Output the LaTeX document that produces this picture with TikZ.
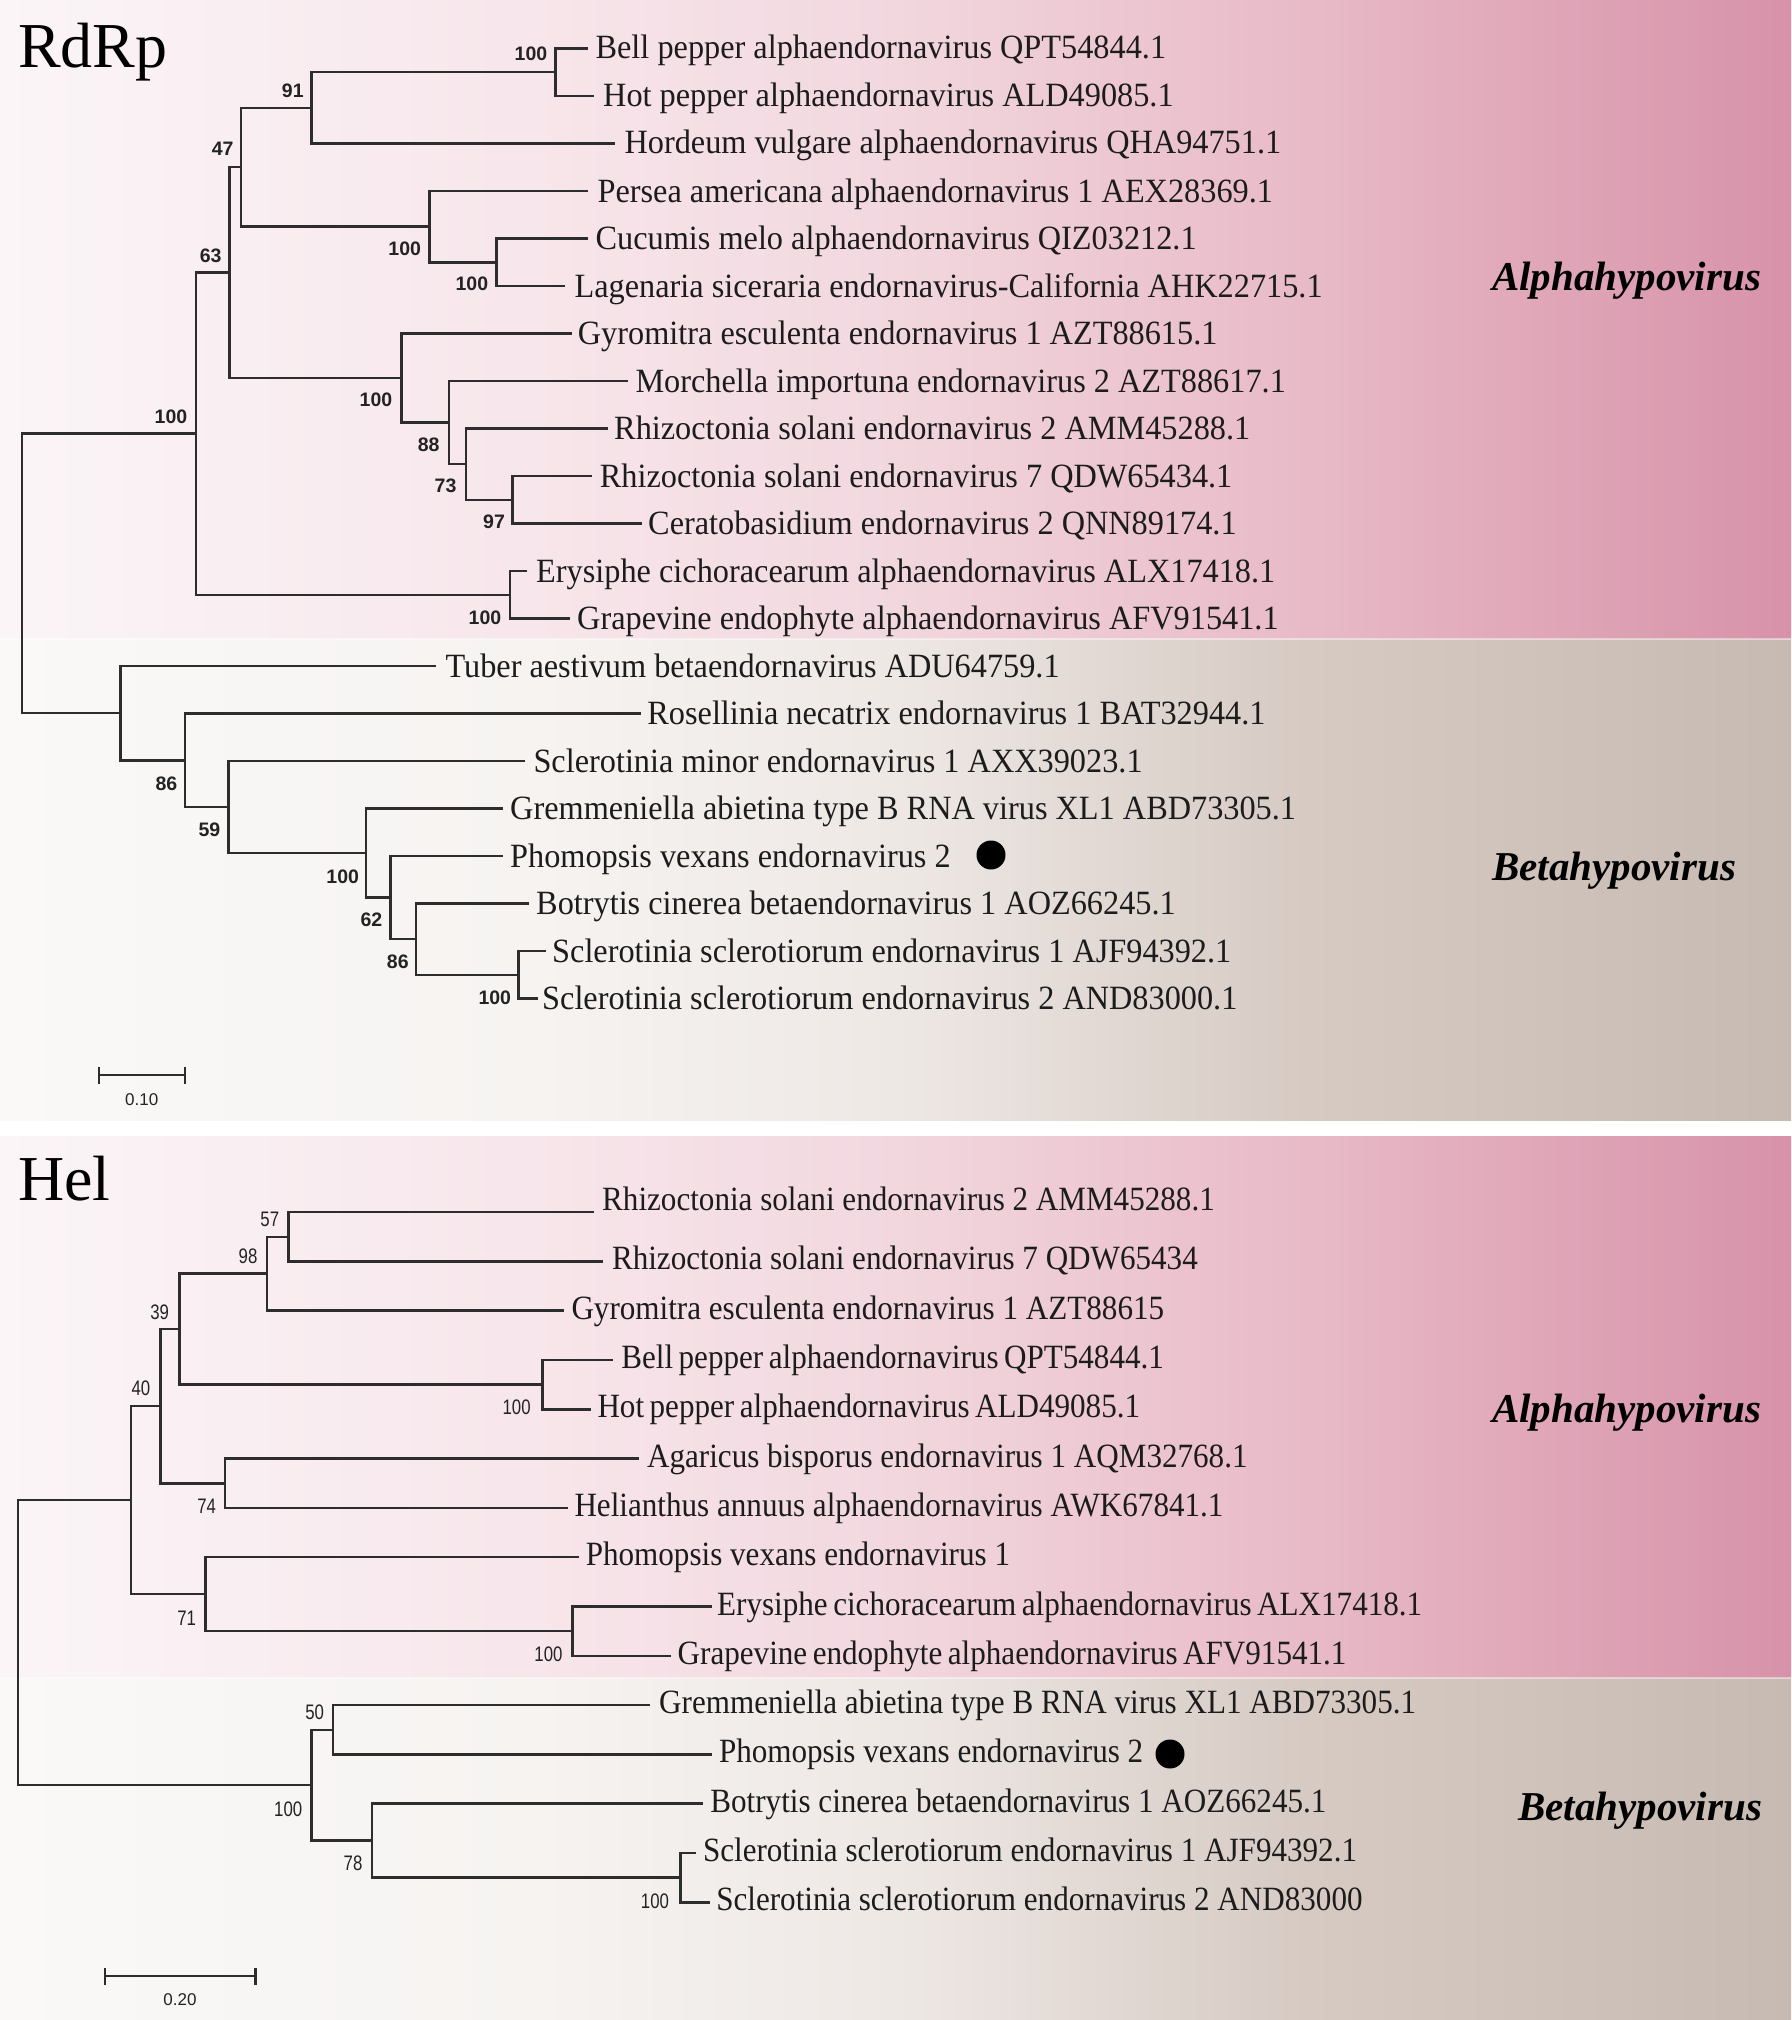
\documentclass[tikz,border=0pt]{standalone}
\usepackage{fontspec}
\setmainfont{Liberation Serif}
\newfontfamily\leafRm[FakeStretch=0.95]{Liberation Serif}
\newfontfamily\leafHm[FakeStretch=0.915]{Liberation Serif}
\newfontfamily\bsRm{Liberation Sans}
\newfontfamily\bsHm[FakeStretch=0.8]{Liberation Sans}
\newfontfamily\sbRm{Liberation Sans}
\definecolor{pk0}{RGB}{251,245,247}
\definecolor{pk1}{RGB}{247,230,235}
\definecolor{pk2}{RGB}{242,215,223}
\definecolor{pk3}{RGB}{232,186,199}
\definecolor{pk4}{RGB}{215,146,169}
\definecolor{gy0}{RGB}{250,249,248}
\definecolor{gy1}{RGB}{246,243,241}
\definecolor{gy2}{RGB}{238,232,229}
\definecolor{gy3}{RGB}{214,202,195}
\definecolor{gy4}{RGB}{199,186,178}
\definecolor{treecol}{RGB}{45,45,45}
\definecolor{txtcol}{RGB}{28,28,28}
\definecolor{bscol}{RGB}{35,35,35}
\pgfdeclarehorizontalshading{pinkband}{100bp}{color(0bp)=(pk0); color(25bp)=(pk0); color(40bp)=(pk1); color(50bp)=(pk2); color(61.5bp)=(pk3); color(75bp)=(pk4); color(100bp)=(pk4)}
\pgfdeclarehorizontalshading{greyband}{100bp}{color(0bp)=(gy0); color(25bp)=(gy0); color(40bp)=(gy1); color(50bp)=(gy2); color(61.5bp)=(gy3); color(75bp)=(gy4); color(100bp)=(gy4)}
\tikzset{
  br/.style={draw=treecol, line width=2.5pt},
  leafA/.style={anchor=base west, inner sep=0pt, text=txtcol, font=\fontsize{34}{40}\leafRm},
  leafB/.style={anchor=base west, inner sep=0pt, text=txtcol, font=\fontsize{34}{40}\leafHm},
  tight/.style={execute at begin node={\spaceskip=5.5pt plus 1pt\relax}},
  bsA/.style={inner sep=0pt, text=bscol, font=\fontsize{19.5}{22}\bsRm\bfseries},
  bsB/.style={inner sep=0pt, text=bscol, font=\fontsize{21}{24}\bsHm},
  clade/.style={anchor=base west, inner sep=0pt, text=black, font=\fontsize{41}{46}\rmfamily\bfseries\itshape},
  ttl/.style={anchor=base west, inner sep=0pt, text=black, font=\fontsize{64}{70}\rmfamily},
  sbar/.style={draw=treecol, line width=2.4pt},
  sblabel/.style={inner sep=0pt, text=bscol, font=\fontsize{17}{20}\sbRm},
  dotmark/.style={circle, fill=black, inner sep=0pt, minimum size=29pt}
}
\begin{document}
\begin{tikzpicture}[x=1pt,y=-1pt]
\useasboundingbox (0,0) rectangle (1791,2020);
\fill[white] (0,0) rectangle (1791,2020);
% backgrounds
\shade[shading=pinkband] (0,0) rectangle (1791,639.3);
\shade[shading=greyband] (0,639.3) rectangle (1791,1120.7);
\shade[shading=pinkband] (0,1136.7) rectangle (1791,1678.3);
\shade[shading=greyband] (0,1678.3) rectangle (1791,2020);
\draw[white, opacity=0.45, line width=2pt] (0,639.3) -- (1791,639.3);
\draw[white, opacity=0.45, line width=2pt] (0,1678.3) -- (1791,1678.3);

% titles
\node[ttl] (tR) at (18,68) {RdRp};
\node[ttl] (tH) at (18,1200) {Hel};
\node[clade] (cA1) at (1492,290) {Alphahypovirus};
\node[clade] (cB1) at (1492,880) {Betahypovirus};
\node[clade] (cA2) at (1492,1422) {Alphahypovirus};
\node[clade] (cB2) at (1518,1820) {Betahypovirus};

% ===== RdRp tree =====
\coordinate (r1) at (588.4,48.5);
\coordinate (r2) at (594,96);
\coordinate (r3) at (615.4,143.5);
\coordinate (r4) at (588.4,191);
\coordinate (r5) at (588.4,238.5);
\coordinate (r6) at (565.4,286);
\coordinate (r7) at (571.7,333.5);
\coordinate (r8) at (628.3,381);
\coordinate (r9) at (608,428.5);
\coordinate (r10) at (591.7,476);
\coordinate (r11) at (642,523.5);
\coordinate (r12) at (527,571);
\coordinate (r13) at (570,618.5);
\coordinate (r14) at (436.3,666);
\coordinate (r15) at (641.2,713.5);
\coordinate (r16) at (525.3,761);
\coordinate (r17) at (503,808.5);
\coordinate (r18) at (503,856);
\coordinate (r19) at (529,903.5);
\coordinate (r20) at (546,951);
\coordinate (r21) at (538,998.5);
\coordinate (rF) at (555.7,72.25);
\coordinate (rD) at (311.7,107.9);
\coordinate (rH) at (496.6,262.25);
\coordinate (rE) at (429.4,226.6);
\coordinate (rC) at (241.1,167.25);
\coordinate (rK) at (512.7,499.75);
\coordinate (rJ) at (466,464.1);
\coordinate (rI) at (449,422.6);
\coordinate (rG) at (401.5,378);
\coordinate (rB) at (229.6,272.6);
\coordinate (rL) at (509.8,594.75);
\coordinate (rA) at (195.8,433.7);
\coordinate (rS) at (518.4,974.75);
\coordinate (rR) at (416.2,939.1);
\coordinate (rQ) at (390.4,897.6);
\coordinate (rP) at (366.2,853);
\coordinate (rO) at (228.5,807);
\coordinate (rN) at (184.8,760.25);
\coordinate (rM) at (120.6,713.1);
\coordinate (rRoot) at (21.8,573.4);
\foreach \p/\c in {rRoot/rA, rRoot/rM, rA/rB, rA/rL, rB/rC, rB/rG, rC/rD, rC/rE, rD/rF, rD/r3, rF/r1, rF/r2,
  rE/r4, rE/rH, rH/r5, rH/r6, rG/r7, rG/rI, rI/r8, rI/rJ, rJ/r9, rJ/rK, rK/r10, rK/r11, rL/r12, rL/r13,
  rM/r14, rM/rN, rN/r15, rN/rO, rO/r16, rO/rP, rP/r17, rP/rQ, rQ/r18, rQ/rR, rR/r19, rR/rS, rS/r20, rS/r21}
  \draw[br] (\p) |- (\c);
\node[leafA] (lr1) at ([xshift=7pt,yshift=-10.5pt]r1) {Bell pepper alphaendornavirus QPT54844.1};
\node[leafA] (lr2) at ([xshift=9pt,yshift=-11pt]r2) {Hot pepper alphaendornavirus ALD49085.1};
\node[leafA] (lr3) at ([xshift=9pt,yshift=-10.5pt]r3) {Hordeum vulgare alphaendornavirus QHA94751.1};
\node[leafA] (lr4) at ([xshift=9pt,yshift=-11pt]r4) {Persea americana alphaendornavirus 1 AEX28369.1};
\node[leafA] (lr5) at ([xshift=7pt,yshift=-11pt]r5) {Cucumis melo alphaendornavirus QIZ03212.1};
\node[leafA] (lr6) at ([xshift=9pt,yshift=-11pt]r6) {Lagenaria siceraria endornavirus-California AHK22715.1};
\node[leafA] (lr7) at ([xshift=6pt,yshift=-11pt]r7) {Gyromitra esculenta endornavirus 1 AZT88615.1};
\node[leafA] (lr8) at ([xshift=7pt,yshift=-11pt]r8) {Morchella importuna endornavirus 2 AZT88617.1};
\node[leafA] (lr9) at ([xshift=6pt,yshift=-11pt]r9) {Rhizoctonia solani endornavirus 2 AMM45288.1};
\node[leafA] (lr10) at ([xshift=8pt,yshift=-11pt]r10) {Rhizoctonia solani endornavirus 7 QDW65434.1};
\node[leafA] (lr11) at ([xshift=6pt,yshift=-11pt]r11) {Ceratobasidium endornavirus 2 QNN89174.1};
\node[leafA] (lr12) at ([xshift=9pt,yshift=-11pt]r12) {Erysiphe cichoracearum alphaendornavirus ALX17418.1};
\node[leafA] (lr13) at ([xshift=7pt,yshift=-11pt]r13) {Grapevine endophyte alphaendornavirus AFV91541.1};
\node[leafA] (lr14) at ([xshift=9pt,yshift=-11pt]r14) {Tuber aestivum betaendornavirus ADU64759.1};
\node[leafA] (lr15) at ([xshift=6pt,yshift=-11pt]r15) {Rosellinia necatrix endornavirus 1 BAT32944.1};
\node[leafA] (lr16) at ([xshift=8pt,yshift=-11pt]r16) {Sclerotinia minor endornavirus 1 AXX39023.1};
\node[leafA] (lr17) at ([xshift=7pt,yshift=-11pt]r17) {Gremmeniella abietina type B RNA virus XL1 ABD73305.1};
\node[leafA] (lr18) at ([xshift=7pt,yshift=-11pt]r18) {Phomopsis vexans endornavirus 2};
\node[leafA] (lr19) at ([xshift=7pt,yshift=-11pt]r19) {Botrytis cinerea betaendornavirus 1 AOZ66245.1};
\node[leafA] (lr20) at ([xshift=6pt,yshift=-11pt]r20) {Sclerotinia sclerotiorum endornavirus 1 AJF94392.1};
\node[leafA] (lr21) at ([xshift=4pt,yshift=-11pt]r21) {Sclerotinia sclerotiorum endornavirus 2 AND83000.1};
\node[dotmark] (dR) at (991,855) {};
\node[bsA] (bR1) at (171,416.7) {100};
\node[bsA] (bR2) at (210.7,255.8) {63};
\node[bsA] (bR3) at (222.7,149) {47};
\node[bsA] (bR4) at (292.8,91.2) {91};
\node[bsA] (bR5) at (531,54) {100};
\node[bsA] (bR6) at (404.7,248.8) {100};
\node[bsA] (bR7) at (471.9,284) {100};
\node[bsA] (bR8) at (376,400) {100};
\node[bsA] (bR9) at (428.6,445) {88};
\node[bsA] (bR10) at (445.5,485.8) {73};
\node[bsA] (bR11) at (494,521.7) {97};
\node[bsA] (bR12) at (485,617.7) {100};
\node[bsA] (bR13) at (166.5,783.3) {86};
\node[bsA] (bR14) at (209.5,830) {59};
\node[bsA] (bR15) at (342.7,876.7) {100};
\node[bsA] (bR16) at (371.4,920) {62};
\node[bsA] (bR17) at (397.8,961.7) {86};
\node[bsA] (bR18) at (494.8,997.7) {100};
\coordinate (sa1) at (98.7,1075);
\coordinate (sa2) at (184.8,1075);
\draw[sbar] (sa1) -- (sa2);
\draw[sbar] ([yshift=8.5pt]sa1) -- ([yshift=-9pt]sa1);
\draw[sbar] ([yshift=8.5pt]sa2) -- ([yshift=-9pt]sa2);
\node[sblabel] (sal) at (141.7,1100) {0.10};

% ===== Hel tree =====
\coordinate (h1) at (594,1212.1);
\coordinate (h2) at (602.8,1261.4);
\coordinate (h3) at (564.3,1310.7);
\coordinate (h4) at (613.1,1360);
\coordinate (h5) at (591.3,1409.3);
\coordinate (h6) at (638.9,1458.6);
\coordinate (h7) at (568.3,1507.9);
\coordinate (h8) at (578.6,1557.2);
\coordinate (h9) at (712,1606.5);
\coordinate (h10) at (670.5,1655.8);
\coordinate (h11) at (650,1705.1);
\coordinate (h12) at (711.8,1754.4);
\coordinate (h13) at (703.2,1803.7);
\coordinate (h14) at (695.8,1853);
\coordinate (h15) at (710.1,1902.3);
\coordinate (he) at (288.7,1236.75);
\coordinate (hd) at (266.9,1273.7);
\coordinate (hf) at (542.5,1384.65);
\coordinate (hc) at (179.7,1329.2);
\coordinate (hg) at (225,1483.25);
\coordinate (hb) at (160.7,1406.2);
\coordinate (hj) at (572.3,1631.15);
\coordinate (hi) at (205.5,1594.2);
\coordinate (ha) at (130.9,1500.2);
\coordinate (hl) at (333,1729.75);
\coordinate (hn) at (680.3,1877.65);
\coordinate (hm) at (372,1840.7);
\coordinate (hk) at (311.7,1785.2);
\coordinate (hRoot) at (17.8,1642.7);
\foreach \p/\c in {hRoot/ha, hRoot/hk, ha/hb, ha/hi, hb/hc, hb/hg, hc/hd, hc/hf, hd/he, hd/h3, he/h1, he/h2,
  hf/h4, hf/h5, hg/h6, hg/h7, hi/h8, hi/hj, hj/h9, hj/h10, hk/hl, hk/hm, hl/h11, hl/h12, hm/h13, hm/hn, hn/h14, hn/h15}
  \draw[br] (\p) |- (\c);
\node[leafB] (lh1) at ([xshift=8pt,yshift=2pt]h1) {Rhizoctonia solani endornavirus 2 AMM45288.1};
\node[leafB] (lh2) at ([xshift=9pt,yshift=-8.5pt]h2) {Rhizoctonia solani endornavirus 7 QDW65434};
\node[leafB] (lh3) at ([xshift=7pt,yshift=-8.5pt]h3) {Gyromitra esculenta endornavirus 1 AZT88615};
\node[leafB,tight] (lh4) at ([xshift=8pt,yshift=-8.5pt]h4) {Bell pepper alphaendornavirus QPT54844.1};
\node[leafB,tight] (lh5) at ([xshift=6pt,yshift=-8.5pt]h5) {Hot pepper alphaendornavirus ALD49085.1};
\node[leafB] (lh6) at ([xshift=8pt,yshift=-8.5pt]h6) {Agaricus bisporus endornavirus 1 AQM32768.1};
\node[leafB] (lh7) at ([xshift=6pt,yshift=-8.5pt]h7) {Helianthus annuus alphaendornavirus AWK67841.1};
\node[leafB] (lh8) at ([xshift=7pt,yshift=-8.5pt]h8) {Phomopsis vexans endornavirus 1};
\node[leafB,tight] (lh9) at ([xshift=5pt,yshift=-8.5pt]h9) {Erysiphe cichoracearum alphaendornavirus ALX17418.1};
\node[leafB,tight] (lh10) at ([xshift=7pt,yshift=-8.5pt]h10) {Grapevine endophyte alphaendornavirus AFV91541.1};
\node[leafB] (lh11) at ([xshift=9pt,yshift=-8.5pt]h11) {Gremmeniella abietina type B RNA virus XL1 ABD73305.1};
\node[leafB] (lh12) at ([xshift=7pt,yshift=-8.5pt]h12) {Phomopsis vexans endornavirus 2};
\node[leafB] (lh13) at ([xshift=7pt,yshift=-8.5pt]h13) {Botrytis cinerea betaendornavirus 1 AOZ66245.1};
\node[leafB] (lh14) at ([xshift=7pt,yshift=-8.5pt]h14) {Sclerotinia sclerotiorum endornavirus 1 AJF94392.1};
\node[leafB] (lh15) at ([xshift=6pt,yshift=-8.5pt]h15) {Sclerotinia sclerotiorum endornavirus 2 AND83000};
\node[dotmark] (dH) at (1170,1754) {};
\node[bsB] (bH1) at (269.8,1219) {57};
\node[bsB] (bH2) at (248,1256.4) {98};
\node[bsB] (bH3) at (159.6,1312) {39};
\node[bsB] (bH4) at (141,1387.9) {40};
\node[bsB] (bH5) at (516.6,1407.5) {100};
\node[bsB] (bH6) at (206.7,1506.4) {74};
\node[bsB] (bH7) at (186.6,1618) {71};
\node[bsB] (bH8) at (548.5,1654.6) {100};
\node[bsB] (bH9) at (314.6,1712.7) {50};
\node[bsB] (bH10) at (288.2,1809.3) {100};
\node[bsB] (bH11) at (353,1863.3) {78};
\node[bsB] (bH12) at (655,1901.7) {100};
\coordinate (sb1) at (105,1976);
\coordinate (sb2) at (255.5,1976);
\draw[sbar] (sb1) -- (sb2);
\draw[sbar] ([yshift=8.5pt]sb1) -- ([yshift=-9pt]sb1);
\draw[sbar] ([yshift=8.5pt]sb2) -- ([yshift=-9pt]sb2);
\node[sblabel] (sbl) at (180,2000) {0.20};
\end{tikzpicture}
\end{document}
